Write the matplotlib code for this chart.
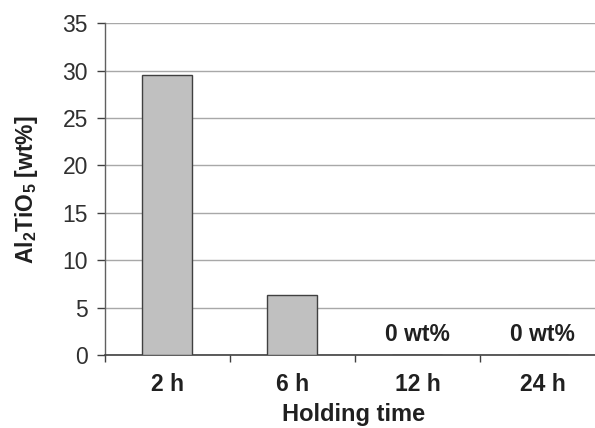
import numpy as np
import matplotlib.pyplot as plt

plt.rcParams['font.family'] = ['Liberation Sans', 'DejaVu Sans']
plt.rcParams['mathtext.fontset'] = 'custom'
plt.rcParams['mathtext.rm'] = 'Liberation Sans'
plt.rcParams['mathtext.bf'] = 'Liberation Sans:bold'

# データ
categories = ['2 h', '6 h', '12 h', '24 h']
values = [29.5, 6.3, 0.0, 0.0]
zero_labels = ['', '', '0 wt%', '0 wt%']

fig = plt.figure(figsize=(5.95, 4.28), dpi=100)
ax = fig.add_axes([0.176, 0.17, 0.841, 0.776])

x = np.arange(len(categories))
ax.bar(x, values, width=0.4, color='#c0c0c0', edgecolor='#404040', linewidth=1.0, zorder=3)

# 0 wt% の注記
for xi, v, lab in zip(x, values, zero_labels):
    if lab:
        ax.text(xi, v + 1.0, lab, ha='center', va='bottom', fontsize=16.5, fontweight='bold', color='#202020')

ax.set_xlim(-0.5, 3.5)
ax.set_ylim(0, 35)
ax.set_yticks(np.arange(0, 36, 5))
ax.yaxis.grid(True, color='#a8a8a8', linewidth=1.0, zorder=0)
ax.set_axisbelow(True)

ax.set_xticks(x)
ax.set_xticklabels(categories, fontsize=16.5, fontweight='bold', color='#202020')
ax.set_xticks(np.arange(-0.5, 3.6, 1.0), minor=True)
ax.tick_params(axis='x', which='major', length=0, pad=13)
ax.tick_params(axis='x', which='minor', length=5, width=1, color='#404040', direction='out')
ax.tick_params(axis='y', length=6, width=1, color='#404040', labelsize=16.5, labelcolor='#303030', pad=6)

for s in ['top', 'right']:
    ax.spines[s].set_visible(False)
ax.spines['left'].set_color('#606060')
ax.spines['bottom'].set_color('#404040')
ax.spines['left'].set_linewidth(1.0)
ax.spines['bottom'].set_linewidth(1.2)

ax.set_ylabel(r'Al$_\mathregular{2}$TiO$_\mathregular{5}$ [wt%]', fontsize=16.5, fontweight='bold', color='#202020')
ax.yaxis.set_label_coords(-0.13, 0.5)
ax.set_xlabel('Holding time', fontsize=17, fontweight='bold', color='#202020')
ax.xaxis.set_label_coords(0.497, -0.145)

fig.savefig('out.png', dpi=100)
